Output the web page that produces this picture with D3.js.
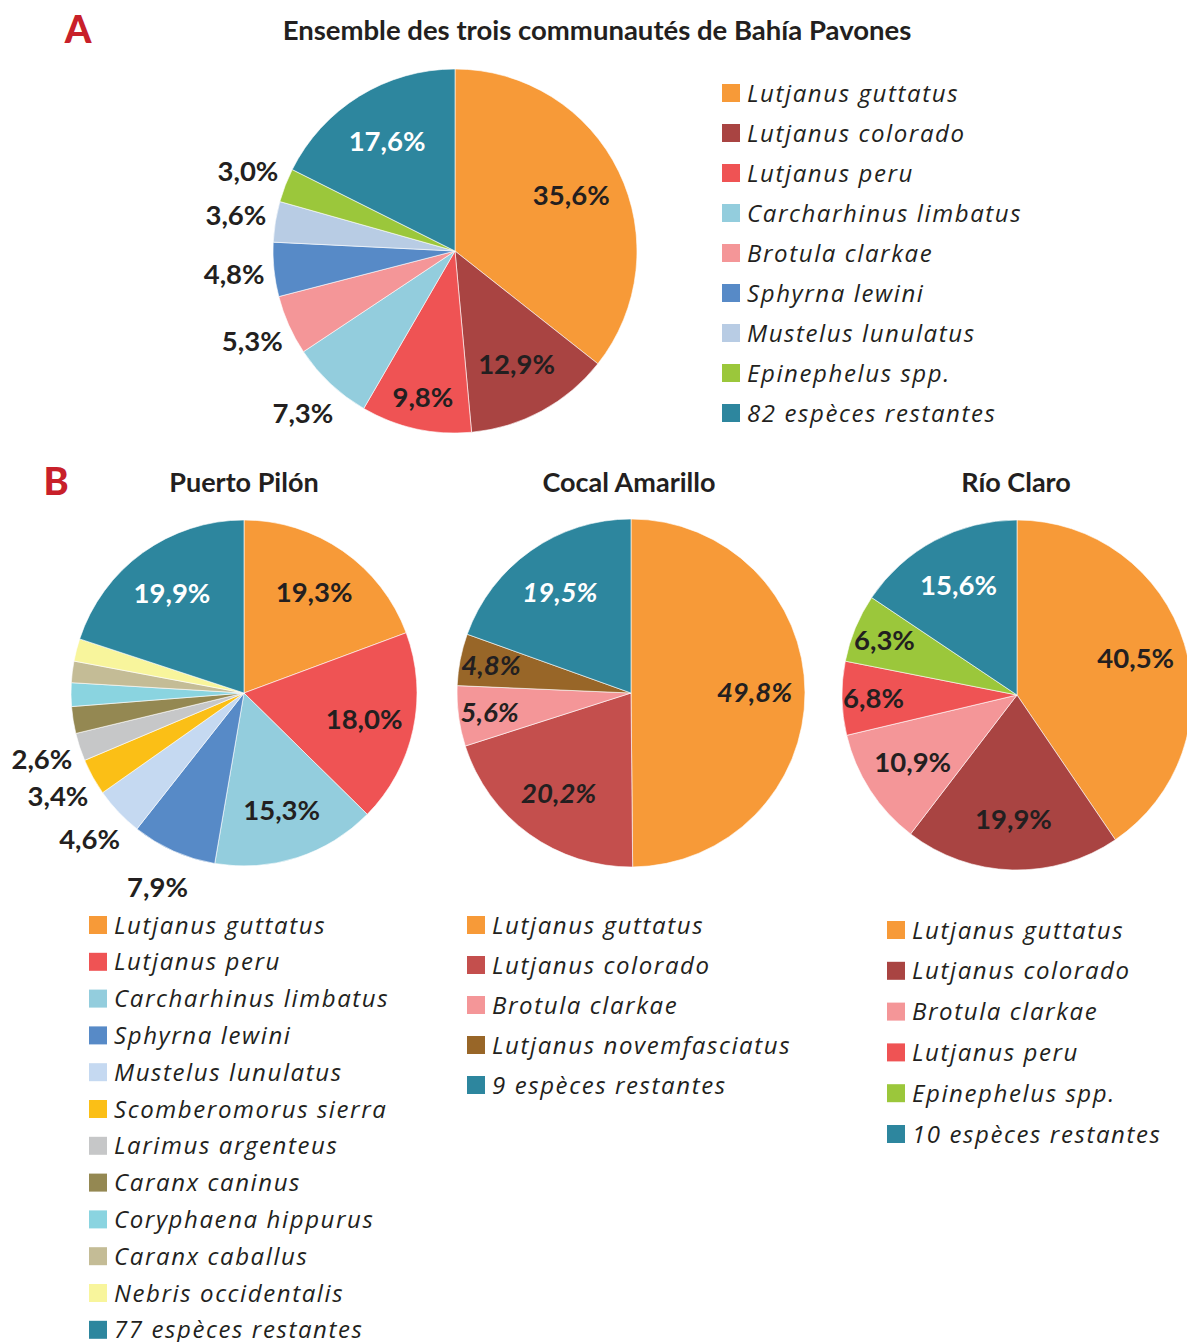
<!DOCTYPE html>
<html>
<head>
<meta charset="utf-8">
<script src="https://cdn.jsdelivr.net/npm/d3@7"></script>
<style>
  body { margin: 0; background: #fff; }
  svg { display: block; }
</style>
</head>
<body>
<svg id="chart" width="1187" height="1342"></svg>
<script>
// ---- Data: share (%) of catch by species ----
const pavonesSpecies = ["Lutjanus guttatus", "Lutjanus colorado", "Lutjanus peru", "Carcharhinus limbatus",
  "Brotula clarkae", "Sphyrna lewini", "Mustelus lunulatus", "Epinephelus spp.", "82 espèces restantes"];
const pavonesValues = [35.6, 12.9, 9.8, 7.3, 5.3, 4.8, 3.6, 3.0, 17.6];

const pilonSpecies = ["Lutjanus guttatus", "Lutjanus peru", "Carcharhinus limbatus", "Sphyrna lewini",
  "Mustelus lunulatus", "Scomberomorus sierra", "Larimus argenteus", "Caranx caninus",
  "Coryphaena hippurus", "Caranx caballus", "Nebris occidentalis", "77 espèces restantes"];
const pilonValues = [19.3, 18.0, 15.3, 7.9, 4.6, 3.4, 2.6, 2.5, 2.2, 2.0, 2.1, 19.9];

const cocalSpecies = ["Lutjanus guttatus", "Lutjanus colorado", "Brotula clarkae",
  "Lutjanus novemfasciatus", "9 espèces restantes"];
const cocalValues = [49.8, 20.2, 5.6, 4.8, 19.5];

const rioSpecies = ["Lutjanus guttatus", "Lutjanus colorado", "Brotula clarkae", "Lutjanus peru",
  "Epinephelus spp.", "10 espèces restantes"];
const rioValues = [40.5, 19.9, 10.9, 6.8, 6.3, 15.6];

// ---- Colours ----
const pavonesColors = ["#F79A38", "#A94442", "#EF5354", "#93CDDD", "#F49698", "#578AC7", "#B8CCE4", "#9BC73B", "#2D869E"];
const pilonColors = ["#F79A38", "#EF5354", "#93CDDD", "#578AC7", "#C5D9F1", "#FBBF16", "#C6C7C8", "#948852",
  "#8AD4E0", "#C4BC96", "#F8F59C", "#2D869E"];
const cocalColors = ["#F79A38", "#C44F4D", "#F49698", "#986628", "#2D869E"];
const rioColors = ["#F79A38", "#A94442", "#F49698", "#EF5354", "#9BC73B", "#2D869E"];

const FONT = "Lato, 'Open Sans', sans-serif";
const LEGEND_FONT = "'Open Sans', Lato, sans-serif";
const INK = "#231F20";
const svg = d3.select("#chart");

const fmt = v => d3.format(".1f")(v).replace(".", ",") + "%";

const panels = [
  { species: pavonesSpecies, values: pavonesValues, colors: pavonesColors,
    cx: 455, cy: 251, r: 182, outside: [3, 4, 5, 6, 7], hidden: [], outR: 1.22,
    italic: false, legend: { x: 722, y: 93, step: 40 } },
  { species: pilonSpecies, values: pilonValues, colors: pilonColors,
    cx: 244, cy: 693, r: 173, outside: [3, 4, 5, 6], hidden: [7, 8, 9, 10], outR: 1.23,
    italic: false, title: "Puerto Pilón", titleX: 244, legend: { x: 89, y: 925, step: 36.8 } },
  { species: cocalSpecies, values: cocalValues, colors: cocalColors,
    cx: 631, cy: 693, r: 174, outside: [], hidden: [], outR: 1.2,
    italic: true, title: "Cocal Amarillo", titleX: 629, legend: { x: 467, y: 925, step: 40 } },
  { species: rioSpecies, values: rioValues, colors: rioColors,
    cx: 1017, cy: 695, r: 175, outside: [], hidden: [], outR: 1.2,
    italic: false, title: "Río Claro", titleX: 1016, legend: { x: 887, y: 930, step: 40.8 } }
];

const pie = d3.pie().sort(null).value(d => d);

panels.forEach(p => {
  const g = svg.append("g").attr("transform", `translate(${p.cx},${p.cy})`);
  const arcs = pie(p.values);
  const arc = d3.arc().innerRadius(0).outerRadius(p.r);

  // slices
  g.selectAll("path").data(arcs).join("path")
    .attr("d", arc)
    .attr("fill", d => p.colors[d.index])
    .attr("stroke", "#fff")
    .attr("stroke-width", 0.6);

  // percentage labels: inside the slice, or just outside the rim for thin slices
  const lastIdx = p.values.length - 1;
  const labelled = arcs.filter(d => !p.hidden.includes(d.index));
  g.selectAll("text.pct").data(labelled).join("text")
    .attr("class", "pct")
    .each(function (d) {
      const outside = p.outside.includes(d.index);
      const rr = outside ? p.r * p.outR : p.r * (d.data < 10 ? 0.82 : 0.71);
      const c = d3.arc().innerRadius(rr).outerRadius(rr).centroid(d);
      d3.select(this)
        .attr("x", c[0]).attr("y", c[1])
        .attr("dy", "0.36em")
        .attr("text-anchor", "middle")
        .attr("font-family", FONT)
        .attr("font-weight", 700)
        .attr("font-style", p.italic ? "italic" : "normal")
        .attr("font-size", 27.5)
        .attr("fill", d.index === lastIdx ? "#fff" : INK)
        .text(fmt(d.data));
    });

  if (p.title) {
    svg.append("text")
      .attr("x", p.titleX).attr("y", 492)
      .attr("text-anchor", "middle")
      .attr("font-family", FONT).attr("font-weight", 700).attr("font-size", 27)
      .attr("fill", INK)
      .text(p.title);
  }

  // legend
  const lg = svg.append("g").attr("transform", `translate(${p.legend.x},${p.legend.y})`);
  const rows = lg.selectAll("g").data(p.species).join("g")
    .attr("transform", (d, i) => `translate(0,${i * p.legend.step})`);
  rows.append("rect").attr("x", 0).attr("y", -9).attr("width", 18).attr("height", 18)
    .attr("fill", (d, i) => p.colors[i]);
  rows.append("text").attr("x", 25).attr("y", 0).attr("dy", "0.36em")
    .attr("font-family", LEGEND_FONT).attr("font-style", "italic").attr("font-size", 24)
    .attr("letter-spacing", 1.6)
    .attr("fill", INK)
    .text(d => d);
});

// Main title and panel letters
svg.append("text").attr("x", 597).attr("y", 40).attr("text-anchor", "middle")
  .attr("font-family", FONT).attr("font-weight", 700).attr("font-size", 27.5).attr("fill", INK)
  .text("Ensemble des trois communautés de Bahía Pavones");
svg.append("text").attr("x", 78).attr("y", 43).attr("text-anchor", "middle")
  .attr("font-family", FONT).attr("font-weight", 900).attr("font-size", 38).attr("fill", "#C8202A")
  .text("A");
svg.append("text").attr("x", 56).attr("y", 495).attr("text-anchor", "middle")
  .attr("font-family", FONT).attr("font-weight", 900).attr("font-size", 38).attr("fill", "#C8202A")
  .text("B");
</script>
</body>
</html>
